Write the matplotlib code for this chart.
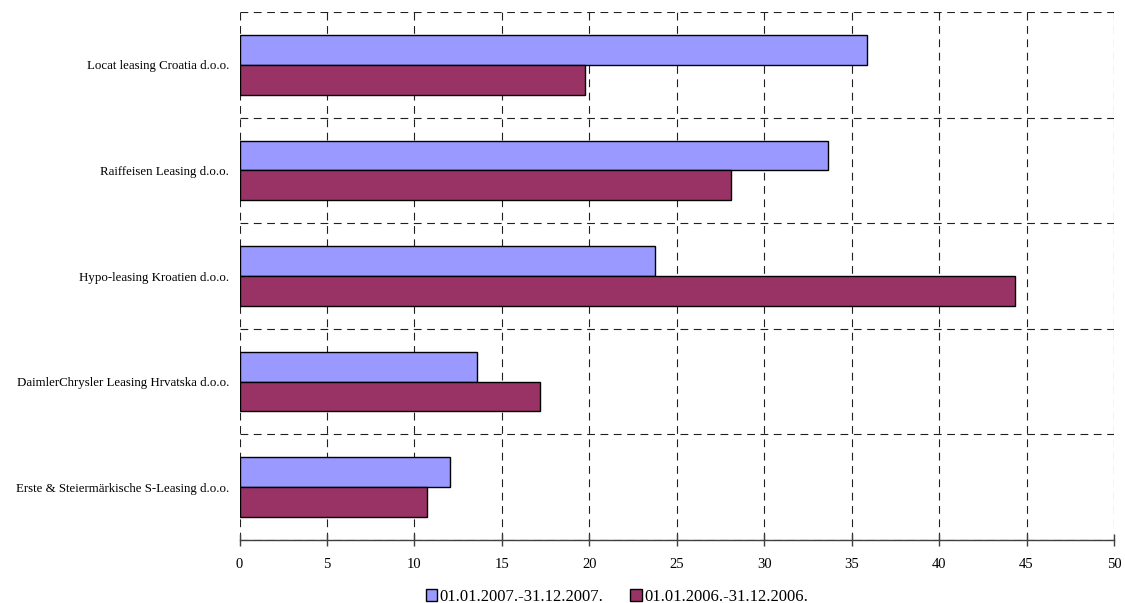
import matplotlib
matplotlib.use("Agg")
import matplotlib.pyplot as plt
import numpy as np
from matplotlib.patches import Patch

categories = ["Erste & Steiermärkische S-Leasing d.o.o.",
              "DaimlerChrysler Leasing Hrvatska d.o.o.",
              "Hypo-leasing Kroatien d.o.o.",
              "Raiffeisen Leasing d.o.o.",
              "Locat leasing Croatia d.o.o."]
series_2007 = [12.05, 13.6, 23.73, 33.62, 35.86]
series_2006 = [10.72, 17.19, 44.36, 28.09, 19.77]
labels = ["01.01.2007.-31.12.2007.", "01.01.2006.-31.12.2006."]
xticks = [0, 5, 10, 15, 20, 25, 30, 35, 40, 45, 50]

plt.rcParams['font.family'] = ['Liberation Serif', 'DejaVu Serif']

fig = plt.figure(figsize=(11.25, 6.03), dpi=100)
ax = fig.add_axes([239.5/1125, 1-540/603, (1114-239.5)/1125, (540-12)/603])

y = np.arange(len(categories))
h = 0.283
c07 = "#9999FF"
c06 = "#993366"
ax.barh(y + h/2, series_2007, height=h, color=c07, edgecolor="black", linewidth=1.0, zorder=3)
ax.barh(y - h/2, series_2006, height=h, color=c06, edgecolor="black", linewidth=1.0, zorder=3)

ax.set_xlim(0, 50)
ax.set_ylim(-0.5, len(categories) - 0.5)
ax.set_xticks(xticks)
ax.set_xticklabels([str(v) for v in xticks], fontsize=10.5)
ax.set_yticks(y)
ax.set_yticklabels(categories, fontsize=9.3)
ax.tick_params(axis='y', length=0, pad=7.5)
ax.tick_params(axis='x', direction='inout', length=8, width=1, color='#404040', pad=9)

ax.set_yticks(np.arange(-0.5, len(categories), 1.0), minor=True)
ax.tick_params(axis='y', which='minor', length=0)

dash = (0, (7, 5))
ax.grid(axis='x', which='major', color='#202020', linestyle=dash, linewidth=0.8, zorder=0)
ax.grid(axis='y', which='minor', color='#202020', linestyle=dash, linewidth=0.8, zorder=0)

for s in ['top', 'right', 'left']:
    ax.spines[s].set_visible(False)
ax.spines['bottom'].set_color('#404040')
ax.spines['bottom'].set_linewidth(1.0)
ax.spines['bottom'].set_zorder(4)

handles = [Patch(facecolor=c07, edgecolor='black', linewidth=1.0),
           Patch(facecolor=c06, edgecolor='black', linewidth=1.0)]
fig.legend(handles, labels, loc='center', bbox_to_anchor=(617/1125, 1-597/603),
           ncol=2, frameon=False, fontsize=12, handlelength=0.7, handleheight=0.7,
           handletextpad=0.15, columnspacing=1.6, borderpad=0.0)

fig.savefig("out.png", dpi=100)
